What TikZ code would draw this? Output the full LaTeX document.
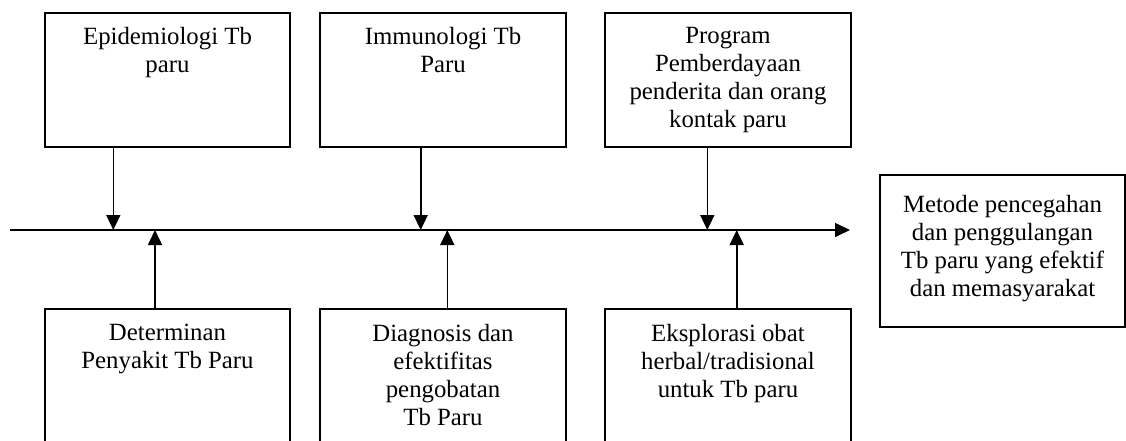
\documentclass[tikz,border=0pt]{standalone}
\usepackage{fontspec}
\setmainfont{Liberation Serif}
\usetikzlibrary{arrows.meta}
\tikzset{
  boxnode/.style={draw, line width=2pt, minimum width=245.5pt, inner sep=0pt, fill=white},
  topbox/.style={boxnode, minimum height=134.6pt},
  botbox/.style={boxnode, minimum height=141pt},
  txt/.style={anchor=north, inner sep=0pt, align=center, font=\fontsize{24.8}{28}\selectfont},
  arr/.style={line width=1.6pt, -{Triangle[length=15pt,width=14pt]}},
}
\begin{document}
\begin{tikzpicture}[x=1pt,y=-1pt]
\clip (0,0) rectangle (1126,440);
\fill[white] (0,0) rectangle (1126,440);
% top boxes
\node[topbox] (t1) at (167.5,80) {};
\node[topbox] (t2) at (443,80) {};
\node[topbox] (t3) at (728,80) {};
% bottom boxes
\node[botbox] (b1) at (167.5,379.8) {};
\node[botbox] (b2) at (443,379.8) {};
\node[botbox] (b3) at (728,379.8) {};
% result box
\node[boxnode, minimum width=245pt, minimum height=152.3pt] (r) at (1002.5,251.15) {};
% texts
\node[txt] (t1l) at ([yshift=-15.3pt]t1.north) {Epidemiologi Tb\\paru};
\node[txt] (t2l) at ([yshift=-15.3pt]t2.north) {Immunologi Tb\\Paru};
\node[txt] (t3l) at ([yshift=-15.3pt]t3.north) {Program\\Pemberdayaan\\penderita dan orang\\kontak paru};
\node[txt] (b1l) at ([yshift=-15.3pt]b1.north) {Determinan\\Penyakit Tb Paru};
\node[txt] (b2l) at ([yshift=-15.3pt]b2.north) {Diagnosis dan\\efektifitas\\pengobatan\\Tb Paru};
\node[txt] (b3l) at ([yshift=-15.3pt]b3.north) {Eksplorasi obat\\herbal/tradisional\\untuk Tb paru};
\node[txt] (rl) at ([yshift=-21.3pt]r.north) {Metode pencegahan\\dan penggulangan\\Tb paru yang efektif\\dan memasyarakat};
% spine
\coordinate (s0) at (10,230);
\coordinate (s9) at (850,230);
\draw[arr] (s0) -- (s9);
\coordinate (d1) at (113.3,230);
\coordinate (d2) at (420.7,230);
\coordinate (d3) at (707.3,230);
\coordinate (u1) at (155,230);
\coordinate (u2) at (447.3,230);
\coordinate (u3) at (736.7,230);
\draw[arr] (t1.south -| d1) -- (d1);
\draw[arr] (t2.south -| d2) -- (d2);
\draw[arr] (t3.south -| d3) -- (d3);
\draw[arr] (b1.north -| u1) -- (u1);
\draw[arr] (b2.north -| u2) -- (u2);
\draw[arr] (b3.north -| u3) -- (u3);
\end{tikzpicture}
\end{document}
